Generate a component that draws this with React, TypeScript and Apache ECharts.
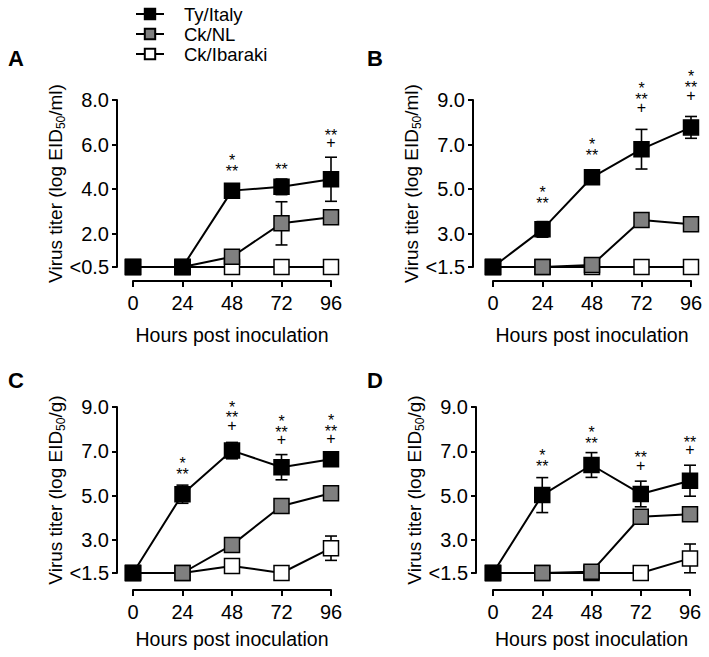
import React, { useEffect, useRef } from 'react';
import * as echarts from 'echarts';

// ---------------- data ----------------
const hours = [0, 24, 48, 72, 96];
const seriesNames = ['Ty/Italy', 'Ck/NL', 'Ck/Ibaraki'];
const panelLetters = ['A', 'B', 'C', 'D'];
const yUnits = ['ml', 'ml', 'g', 'g'];
const xAxisTitle = 'Hours post inoculation';

const yTicksA = [0.5, 2, 4, 6, 8];
const yTicksBCD = [1.5, 3, 5, 7, 9];

// Panel A
const tyItalyA = [0.5, 0.5, 3.93, 4.1, 4.44];
const tyItalyErrA = [0, 0, 0.15, 0.35, 0.99];
const ckNLA = [0.5, 0.5, 0.96, 2.46, 2.73];
const ckNLErrA = [0, 0, 0.1, 0.97, 0.15];
const ckIbarakiA = [0.5, 0.5, 0.5, 0.5, 0.5];
const ckIbarakiErrA = [0, 0, 0, 0, 0];
const signifA = ['', '', '*\n**', '**', '**\n+'];
const signifPosA = [null, null, 4.95, 5.04, 6.08];

// Panel B
const tyItalyB = [1.5, 3.19, 5.53, 6.79, 7.77];
const tyItalyErrB = [0, 0.35, 0.1, 0.89, 0.49];
const ckNLB = [1.5, 1.5, 1.59, 3.61, 3.42];
const ckNLErrB = [0, 0, 0, 0.1, 0.1];
const ckIbarakiB = [1.5, 1.5, 1.5, 1.5, 1.5];
const ckIbarakiErrB = [0, 0, 0, 0, 0];
const signifB = ['', '*\n**', '*\n**', '*\n**\n+', '*\n**\n+'];
const signifPosB = [null, 4.51, 6.68, 8.67, 9.22];

// Panel C
const tyItalyC = [1.5, 5.06, 7.03, 6.28, 6.64];
const tyItalyErrC = [0, 0.41, 0.37, 0.57, 0.15];
const ckNLC = [1.5, 1.5, 2.77, 4.53, 5.1];
const ckNLErrC = [0, 0, 0.1, 0.1, 0.1];
const ckIbarakiC = [1.5, 1.5, 1.82, 1.5, 2.62];
const ckIbarakiErrC = [0, 0, 0.25, 0, 0.55];
const signifC = ['', '*\n**', '*\n**\n+', '*\n**\n+', '*\n**\n+'];
const signifPosC = [null, 6.12, 8.16, 7.51, 7.56];

// Panel D
const tyItalyD = [1.5, 5.02, 6.38, 5.07, 5.67];
const tyItalyErrD = [0, 0.79, 0.56, 0.58, 0.7];
const ckNLD = [1.5, 1.5, 1.56, 4.04, 4.15];
const ckNLErrD = [0, 0, 0, 0.1, 0.1];
const ckIbarakiD = [1.5, 1.5, 1.5, 1.5, 2.16];
const ckIbarakiErrD = [0, 0, 0, 0, 0.65];
const signifD = ['', '*\n**', '*\n**', '**\n+', '**\n+'];
const signifPosD = [null, 6.46, 7.51, 6.38, 7.06];

const panels = [
  { means: [tyItalyA, ckNLA, ckIbarakiA], errs: [tyItalyErrA, ckNLErrA, ckIbarakiErrA], ticks: yTicksA, signif: signifA, signifPos: signifPosA },
  { means: [tyItalyB, ckNLB, ckIbarakiB], errs: [tyItalyErrB, ckNLErrB, ckIbarakiErrB], ticks: yTicksBCD, signif: signifB, signifPos: signifPosB },
  { means: [tyItalyC, ckNLC, ckIbarakiC], errs: [tyItalyErrC, ckNLErrC, ckIbarakiErrC], ticks: yTicksBCD, signif: signifC, signifPos: signifPosC },
  { means: [tyItalyD, ckNLD, ckIbarakiD], errs: [tyItalyErrD, ckNLErrD, ckIbarakiErrD], ticks: yTicksBCD, signif: signifD, signifPos: signifPosD },
];

// ---------------- layout / style ----------------
const FONT = 'Liberation Sans, Arial, Helvetica, sans-serif';
const fills = ['#000000', '#7f7f7f', '#ffffff'];
const gridBoxes = [
  { left: 133, top: 100, width: 198, height: 167 },
  { left: 493, top: 100, width: 198, height: 167 },
  { left: 133, top: 407, width: 198, height: 166 },
  { left: 493, top: 407, width: 197, height: 166 },
];
const yAxisOffsets = [16, 20, 16, 17];
const xAxisOffsets = [14, 14, 17, 17];
const xNameGaps = [44, 44, 39, 39];
const letterPos = [
  [16, 58],
  [375, 58],
  [16, 380],
  [375, 380],
];
const STAR_LINE_H = 10.8; // line box for a row of asterisks
const PLUS_LINE_H = 4.4; // line box for a "+" row (glyph sits lower than asterisks)
const STAR_SHIFT = 3.5;

function buildOption() {
  const grid: any[] = [];
  const xAxis: any[] = [];
  const yAxis: any[] = [];
  const series: any[] = [];

  panels.forEach((p, i) => {
    grid.push({ ...gridBoxes[i], containLabel: false, outerBoundsMode: 'none' });
    xAxis.push({
      type: 'value',
      gridIndex: i,
      min: 0,
      max: 96,
      interval: 24,
      position: 'bottom',
      offset: xAxisOffsets[i],
      splitLine: { show: false },
      axisLine: { show: true, onZero: false, lineStyle: { color: '#000', width: 2 } },
      axisTick: { show: true, length: 6, lineStyle: { color: '#000', width: 2 } },
      axisLabel: { color: '#000', fontSize: 20, fontFamily: FONT, margin: 12 },
      name: xAxisTitle,
      nameLocation: 'middle',
      nameGap: xNameGaps[i],
      nameMoveOverlap: false,
      nameTextStyle: { color: '#000', fontSize: 19.5, fontFamily: FONT },
    });
    const ticks = p.ticks;
    const lod = ticks[0];
    yAxis.push({
      type: 'value',
      gridIndex: i,
      min: ticks[0],
      max: ticks[ticks.length - 1],
      position: 'left',
      offset: yAxisOffsets[i],
      splitLine: { show: false },
      axisLine: { show: true, onZero: false, lineStyle: { color: '#000', width: 2 } },
      axisTick: { show: true, length: 5, customValues: ticks, lineStyle: { color: '#000', width: 2 } },
      axisLabel: {
        color: '#000',
        fontSize: 20,
        fontFamily: FONT,
        margin: 8,
        customValues: ticks,
        formatter: (v: number) => (Math.abs(v - lod) < 1e-9 ? '<' + lod.toFixed(1) : v.toFixed(1)),
      },
      name: `Virus titer (log EID{sub|50}/${yUnits[i]})`,
      nameLocation: 'middle',
      nameGap: 50,
      nameMoveOverlap: false,
      nameTextStyle: {
        color: '#000',
        fontSize: 19,
        fontFamily: FONT,
        rich: {
          sub: { fontSize: 12, fontFamily: FONT, color: '#000', padding: [12, 0, 0, 0] },
        },
      },
    });

    // error bars (behind markers)
    const errData: number[][] = [];
    [2, 1, 0].forEach((s) => {
      hours.forEach((h, j) => {
        if (p.errs[s][j] > 0) errData.push([h, p.means[s][j], p.errs[s][j]]);
      });
    });
    series.push({
      type: 'custom',
      name: 'err' + i,
      xAxisIndex: i,
      yAxisIndex: i,
      z: 1,
      clip: false,
      silent: true,
      encode: { x: 0, y: 1 },
      data: errData,
      renderItem: (params: any, api: any) => {
        const x = api.value(0);
        const m = api.value(1);
        const e = api.value(2);
        const top = api.coord([x, m + e]);
        const bot = api.coord([x, m - e]);
        const hw = 6;
        const st = { stroke: '#000', lineWidth: 1.6 };
        return {
          type: 'group',
          children: [
            { type: 'line', shape: { x1: top[0], y1: top[1], x2: bot[0], y2: bot[1] }, style: st },
            { type: 'line', shape: { x1: top[0] - hw, y1: top[1], x2: top[0] + hw, y2: top[1] }, style: st },
            { type: 'line', shape: { x1: bot[0] - hw, y1: bot[1], x2: bot[0] + hw, y2: bot[1] }, style: st },
          ],
        };
      },
    });

    // lines + markers (Ck/Ibaraki first so Ty/Italy is drawn on top)
    [2, 1, 0].forEach((s) => {
      series.push({
        type: 'line',
        name: seriesNames[s],
        xAxisIndex: i,
        yAxisIndex: i,
        z: 2,
        clip: false,
        data: hours.map((h, j) => [h, p.means[s][j]]),
        symbol: 'rect',
        symbolSize: 15,
        showAllSymbol: true,
        itemStyle: { color: fills[s], borderColor: '#000', borderWidth: 1.5, opacity: 1 },
        lineStyle: { color: '#000', width: 2 },
        emphasis: { disabled: true },
      });
    });

    // significance marks (one multi-line text per time point)
    const sigData: number[][] = [];
    const sigText: string[] = [];
    hours.forEach((h, j) => {
      const pos = p.signifPos[j];
      if (p.signif[j] && pos != null) {
        sigData.push([h, pos]);
        sigText.push(p.signif[j]);
      }
    });
    series.push({
      type: 'custom',
      name: 'sig' + i,
      xAxisIndex: i,
      yAxisIndex: i,
      z: 3,
      clip: false,
      silent: true,
      encode: { x: 0, y: 1 },
      data: sigData,
      renderItem: (params: any, api: any) => {
        const pt = api.coord([api.value(0), api.value(1)]);
        const lines = sigText[params.dataIndex].split('\n');
        const last = lines[lines.length - 1];
        const lastIsStar = last.indexOf('*') >= 0;
        const lastH = lastIsStar ? STAR_LINE_H : PLUS_LINE_H;
        const yBottom = pt[1] + (lastIsStar ? STAR_SHIFT : 0) + lastH / 2;
        const rt = lines.map((l) => (l.indexOf('*') >= 0 ? `{s|${l}}` : `{p|${l}}`)).join('\n');
        return {
          type: 'text',
          x: pt[0],
          y: yBottom,
          style: {
            text: rt,
            fill: '#000',
            fontSize: 16,
            fontFamily: FONT,
            align: 'center',
            verticalAlign: 'bottom',
            rich: {
              s: { fontSize: 16, fontFamily: FONT, fill: '#000', lineHeight: STAR_LINE_H },
              p: { fontSize: 16, fontFamily: FONT, fill: '#000', lineHeight: PLUS_LINE_H },
            },
          },
        };
      },
    });
  });

  const graphic = panelLetters.map((L, i) => ({
    type: 'text',
    x: letterPos[i][0],
    y: letterPos[i][1],
    style: {
      text: L,
      fill: '#000',
      fontSize: 22,
      fontWeight: 'bold',
      fontFamily: FONT,
      align: 'center',
      verticalAlign: 'middle',
    },
  }));

  return {
    animation: false,
    backgroundColor: '#ffffff',
    legend: {
      data: seriesNames,
      orient: 'vertical',
      left: 135,
      top: 4,
      padding: 0,
      itemGap: 0,
      itemWidth: 28,
      itemHeight: 13,
      selectedMode: false,
      textStyle: { color: '#000', fontSize: 18.5, fontFamily: FONT, lineHeight: 20, padding: [0, 0, 0, 15] },
    },
    grid,
    xAxis,
    yAxis,
    series,
    graphic,
  };
}

export default function App() {
  const ref = useRef<HTMLDivElement>(null);
  useEffect(() => {
    if (!ref.current) return;
    const chart = echarts.init(ref.current, undefined, { renderer: 'svg' });
    chart.setOption(buildOption() as any);
    return () => chart.dispose();
  }, []);
  return (
    <div
      ref={ref}
      style={{ position: 'fixed', left: 0, top: 0, width: 709, height: 657, background: '#fff' }}
    />
  );
}
